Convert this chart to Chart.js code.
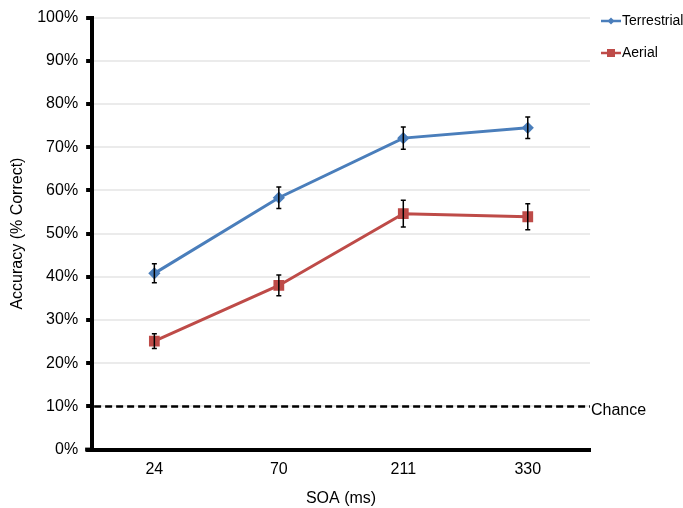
<!DOCTYPE html>
<html>
<head>
<meta charset="utf-8">
<script src="https://cdn.jsdelivr.net/npm/chart.js@4"></script>
<style>
  html, body { margin: 0; padding: 0; background: #fff; }
  #wrap { width: 683px; height: 508px; }
</style>
</head>
<body>
<div id="wrap"><canvas id="chart"></canvas></div>
<script>
// data
const soaLabels = ["24", "70", "211", "330"];
const terrestrial = [40.8, 58.3, 72.1, 74.5];
const terrestrialErr = [2.2, 2.5, 2.6, 2.5];
const aerial = [25.1, 38.0, 54.6, 53.9];
const aerialErr = [1.7, 2.4, 3.1, 3.0];
const chanceLevel = 10;

const blue = "#4a7ebb";
const red = "#be4b48";
const fontFam = "'Liberation Sans', Arial, sans-serif";

// error bars, chance line and legend
const extras = {
  id: "extras",
  afterDatasetsDraw(chart) {
    const ctx = chart.ctx;
    const x = chart.scales.x;
    const y = chart.scales.y;
    const area = chart.chartArea;

    ctx.save();
    // chance line
    const cy = y.getPixelForValue(chanceLevel);
    ctx.strokeStyle = "#000";
    ctx.lineWidth = 2.5;
    ctx.setLineDash([7, 4]);
    ctx.beginPath();
    ctx.moveTo(area.left + 2, cy);
    ctx.lineTo(area.right, cy);
    ctx.stroke();
    ctx.setLineDash([]);
    ctx.fillStyle = "#000";
    ctx.font = "16px " + fontFam;
    ctx.textBaseline = "middle";
    ctx.fillText("Chance", area.right + 1, cy + 4);

    // error bars
    const drawErr = (vals, errs) => {
      ctx.strokeStyle = "#000";
      ctx.lineWidth = 1.5;
      vals.forEach((v, i) => {
        const px = x.getPixelForValue(i);
        const top = y.getPixelForValue(v + errs[i]);
        const bot = y.getPixelForValue(v - errs[i]);
        ctx.beginPath();
        ctx.moveTo(px, top); ctx.lineTo(px, bot);
        ctx.moveTo(px - 2.5, top); ctx.lineTo(px + 2.5, top);
        ctx.moveTo(px - 2.5, bot); ctx.lineTo(px + 2.5, bot);
        ctx.stroke();
      });
    };
    drawErr(terrestrial, terrestrialErr);
    drawErr(aerial, aerialErr);

    // x axis stub left of the y axis
    ctx.fillStyle = "#000";
    ctx.fillRect(area.left - 7, area.bottom - 2, 8, 4);

    // legend
    const items = [
      { text: "Terrestrial", color: blue, shape: "diamond", yPos: 21 },
      { text: "Aerial", color: red, shape: "square", yPos: 53 }
    ];
    ctx.font = "14px " + fontFam;
    items.forEach(it => {
      const lx = 601;
      ctx.strokeStyle = it.color;
      ctx.lineWidth = 2.5;
      ctx.beginPath();
      ctx.moveTo(lx, it.yPos); ctx.lineTo(lx + 20, it.yPos);
      ctx.stroke();
      ctx.fillStyle = it.color;
      const mx = lx + 10;
      if (it.shape === "diamond") {
        ctx.beginPath();
        ctx.moveTo(mx, it.yPos - 3.5);
        ctx.lineTo(mx + 3.5, it.yPos);
        ctx.lineTo(mx, it.yPos + 3.5);
        ctx.lineTo(mx - 3.5, it.yPos);
        ctx.closePath();
        ctx.fill();
      } else {
        ctx.fillRect(mx - 4, it.yPos - 4, 8, 8);
      }
      ctx.fillStyle = "#000";
      ctx.fillText(it.text, lx + 21, it.yPos);
    });
    ctx.restore();
  }
};

new Chart(document.getElementById("chart"), {
  type: "line",
  data: {
    labels: soaLabels,
    datasets: [
      {
        label: "Terrestrial",
        data: terrestrial,
        borderColor: blue,
        backgroundColor: blue,
        borderWidth: 3,
        pointStyle: "rectRot",
        pointRadius: 4,
        pointHoverRadius: 4,
        tension: 0
      },
      {
        label: "Aerial",
        data: aerial,
        borderColor: red,
        backgroundColor: red,
        borderWidth: 3,
        pointStyle: "rect",
        pointRadius: 5.5,
        pointHoverRadius: 5.5,
        tension: 0
      }
    ]
  },
  options: {
    responsive: true,
    maintainAspectRatio: false,
    animation: false,
    layout: { padding: { top: 3, right: 93, left: 8, bottom: 0 } },
    plugins: {
      legend: { display: false },
      tooltip: { enabled: false }
    },
    scales: {
      x: {
        offset: true,
        grid: { display: false, drawTicks: false },
        border: { color: "#000", width: 4 },
        ticks: {
          color: "#000",
          padding: 10,
          font: { size: 16, family: fontFam }
        },
        title: {
          display: true,
          text: "SOA (ms)",
          color: "#000",
          padding: { top: 0, bottom: 0 },
          font: { size: 16, family: fontFam }
        }
      },
      y: {
        min: 0,
        max: 100,
        ticks: {
          stepSize: 10,
          color: "#000",
          padding: 8,
          callback: v => v + "%",
          font: { size: 16, family: fontFam }
        },
        grid: {
          color: "#ebebeb",
          lineWidth: 2,
          tickColor: "#000",
          tickLength: 6,
          tickWidth: 4
        },
        border: { color: "#000", width: 4 },
        title: {
          display: true,
          text: "Accuracy (% Correct)",
          color: "#000",
          padding: { top: 0, bottom: 2 },
          font: { size: 16, family: fontFam }
        }
      }
    }
  },
  plugins: [extras]
});
</script>
</body>
</html>
